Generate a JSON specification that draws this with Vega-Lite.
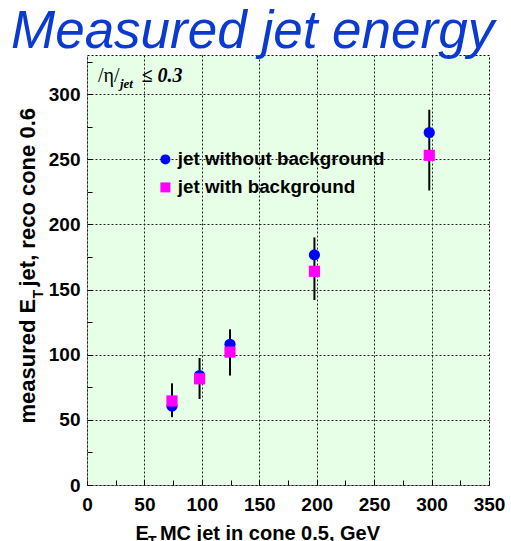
{
  "$schema": "https://vega.github.io/schema/vega-lite/v6.json",
  "width": 402,
  "height": 430,
  "autosize": {"type": "none"},
  "padding": {"left": 87, "top": 55, "right": 22, "bottom": 56},
  "background": "white",
  "title": {
    "text": "Measured jet energy",
    "anchor": "start",
    "frame": "group",
    "dx": -76,
    "dy": 56,
    "offset": 8,
    "baseline": "alphabetic",
    "font": "Liberation Sans",
    "fontSize": 53,
    "fontStyle": "italic",
    "fontWeight": "normal",
    "color": "#0a3ad0"
  },
  "config": {
    "view": {"fill": "#e6ffe6", "stroke": "#000", "strokeDash": [2, 2], "strokeWidth": 1},
    "axis": {
      "labelFont": "Liberation Sans",
      "labelFontWeight": "bold",
      "labelColor": "#000",
      "labelFlush": false,
      "labelOverlap": false,
      "titleFont": "Liberation Sans",
      "titleFontWeight": "bold",
      "titleColor": "#000",
      "tickSize": -5,
      "tickColor": "#000",
      "tickWidth": 1,
      "grid": true,
      "gridColor": "#222",
      "gridDash": [2, 2],
      "gridWidth": 1,
      "domainColor": "#333",
      "domainDash": [1, 1]
    },
    "legend": {
      "orient": "none",
      "legendX": 69,
      "legendY": 95,
      "padding": 0,
      "labelFont": "Liberation Sans",
      "labelFontSize": 18.8,
      "labelFontWeight": "bold",
      "labelColor": "#000",
      "labelLimit": 400,
      "labelOffset": 3,
      "symbolSize": 100,
      "symbolStrokeWidth": 0,
      "rowPadding": 8
    }
  },
  "datasets": {
    "points": [
      {"x": 74, "y": 60.5, "series": "jet without background"},
      {"x": 98, "y": 84, "series": "jet without background"},
      {"x": 124.5, "y": 108, "series": "jet without background"},
      {"x": 198, "y": 176.6, "series": "jet without background"},
      {"x": 298, "y": 270.5, "series": "jet without background"},
      {"x": 74, "y": 64.5, "series": "jet with background"},
      {"x": 98, "y": 81.5, "series": "jet with background"},
      {"x": 124.5, "y": 102, "series": "jet with background"},
      {"x": 198, "y": 164, "series": "jet with background"},
      {"x": 298, "y": 253, "series": "jet with background"}
    ],
    "errors": [
      {"x": 74, "y": 52, "y2": 78},
      {"x": 98, "y": 66, "y2": 97.5},
      {"x": 124.5, "y": 84, "y2": 119.5},
      {"x": 198, "y": 142, "y2": 190},
      {"x": 298, "y": 226, "y2": 288}
    ]
  },
  "encoding": {
    "x": {
      "field": "x",
      "type": "quantitative",
      "scale": {"domain": [0, 350], "nice": false, "zero": false},
      "axis": {
        "values": [0, 25, 50, 75, 100, 125, 150, 175, 200, 225, 250, 275, 300, 325, 350],
        "format": "d",
        "labelExpr": "datum.value % 50 === 0 ? datum.label : ''",
        "labelFontSize": 19,
        "labelPadding": 15,
        "gridOpacity": {"condition": {"test": "datum.value % 50 === 0 && datum.value > 0 && datum.value < 350", "value": 1}, "value": 0},
        "title": "E\u00a0\u00a0MC jet in cone 0.5, GeV",
        "titleFontSize": 20,
        "titleX": 48,
        "titleY": 54.5,
        "titleAlign": "left",
        "titleBaseline": "alphabetic"
      }
    },
    "y": {
      "field": "y",
      "type": "quantitative",
      "scale": {"domain": [0, 330], "nice": false, "zero": false},
      "axis": {
        "values": [0, 25, 50, 75, 100, 125, 150, 175, 200, 225, 250, 275, 300, 325],
        "format": "d",
        "labelExpr": "datum.value % 50 === 0 ? datum.label : ''",
        "labelFontSize": 19,
        "labelPadding": 12,
        "gridOpacity": {"condition": {"test": "datum.value % 50 === 0 && datum.value > 0", "value": 1}, "value": 0},
        "title": "measured E\u00a0\u00a0jet, reco cone 0.6",
        "titleFontSize": 22,
        "titleAngle": 270,
        "titleX": -53,
        "titleY": 368,
        "titleAlign": "left",
        "titleBaseline": "alphabetic"
      }
    }
  },
  "layer": [
    {
      "data": {"name": "errors"},
      "mark": {"type": "rule", "color": "#000", "strokeWidth": 2},
      "encoding": {"y2": {"field": "y2"}}
    },
    {
      "data": {"name": "points"},
      "mark": {"type": "point", "filled": true, "opacity": 1, "size": 125, "strokeWidth": 0},
      "encoding": {
        "color": {
          "field": "series",
          "type": "nominal",
          "scale": {"domain": ["jet without background", "jet with background"], "range": ["#0000ff", "#ff00ff"]},
          "legend": {"title": null}
        },
        "shape": {
          "field": "series",
          "type": "nominal",
          "scale": {"domain": ["jet without background", "jet with background"], "range": ["circle", "square"]},
          "legend": {"title": null}
        }
      }
    },
    {
      "data": {"values": [{"x": 9.6, "y": 309.5, "label": "/η/"}]},
      "mark": {"type": "text", "align": "left", "baseline": "alphabetic", "font": "Liberation Serif", "fontSize": 20, "color": "#000"},
      "encoding": {"text": {"field": "label"}}
    },
    {
      "data": {"values": [{"x": 28.7, "y": 304.8, "label": "jet"}]},
      "mark": {"type": "text", "align": "left", "baseline": "alphabetic", "font": "Liberation Serif", "fontSize": 13, "fontStyle": "italic", "fontWeight": "bold", "color": "#000"},
      "encoding": {"text": {"field": "label"}}
    },
    {
      "data": {"values": [{"x": 47.5, "y": 309.5, "label": "≤ 0.3"}]},
      "mark": {"type": "text", "align": "left", "baseline": "alphabetic", "font": "Liberation Serif", "fontSize": 20, "fontStyle": "italic", "fontWeight": "bold", "color": "#000"},
      "encoding": {"text": {"field": "label"}}
    },
    {
      "data": {"values": [{"x": 53.1, "y": -38.4, "label": "T"}]},
      "mark": {"type": "text", "align": "left", "baseline": "top", "font": "Liberation Sans", "fontSize": 14, "fontWeight": "bold", "color": "#000"},
      "encoding": {"text": {"field": "label"}}
    },
    {
      "data": {"values": [{"x": -38.3, "y": 143.2, "label": "T"}]},
      "mark": {"type": "text", "align": "left", "baseline": "alphabetic", "angle": 270, "font": "Liberation Sans", "fontSize": 14, "fontWeight": "bold", "color": "#000"},
      "encoding": {"text": {"field": "label"}}
    }
  ]
}
